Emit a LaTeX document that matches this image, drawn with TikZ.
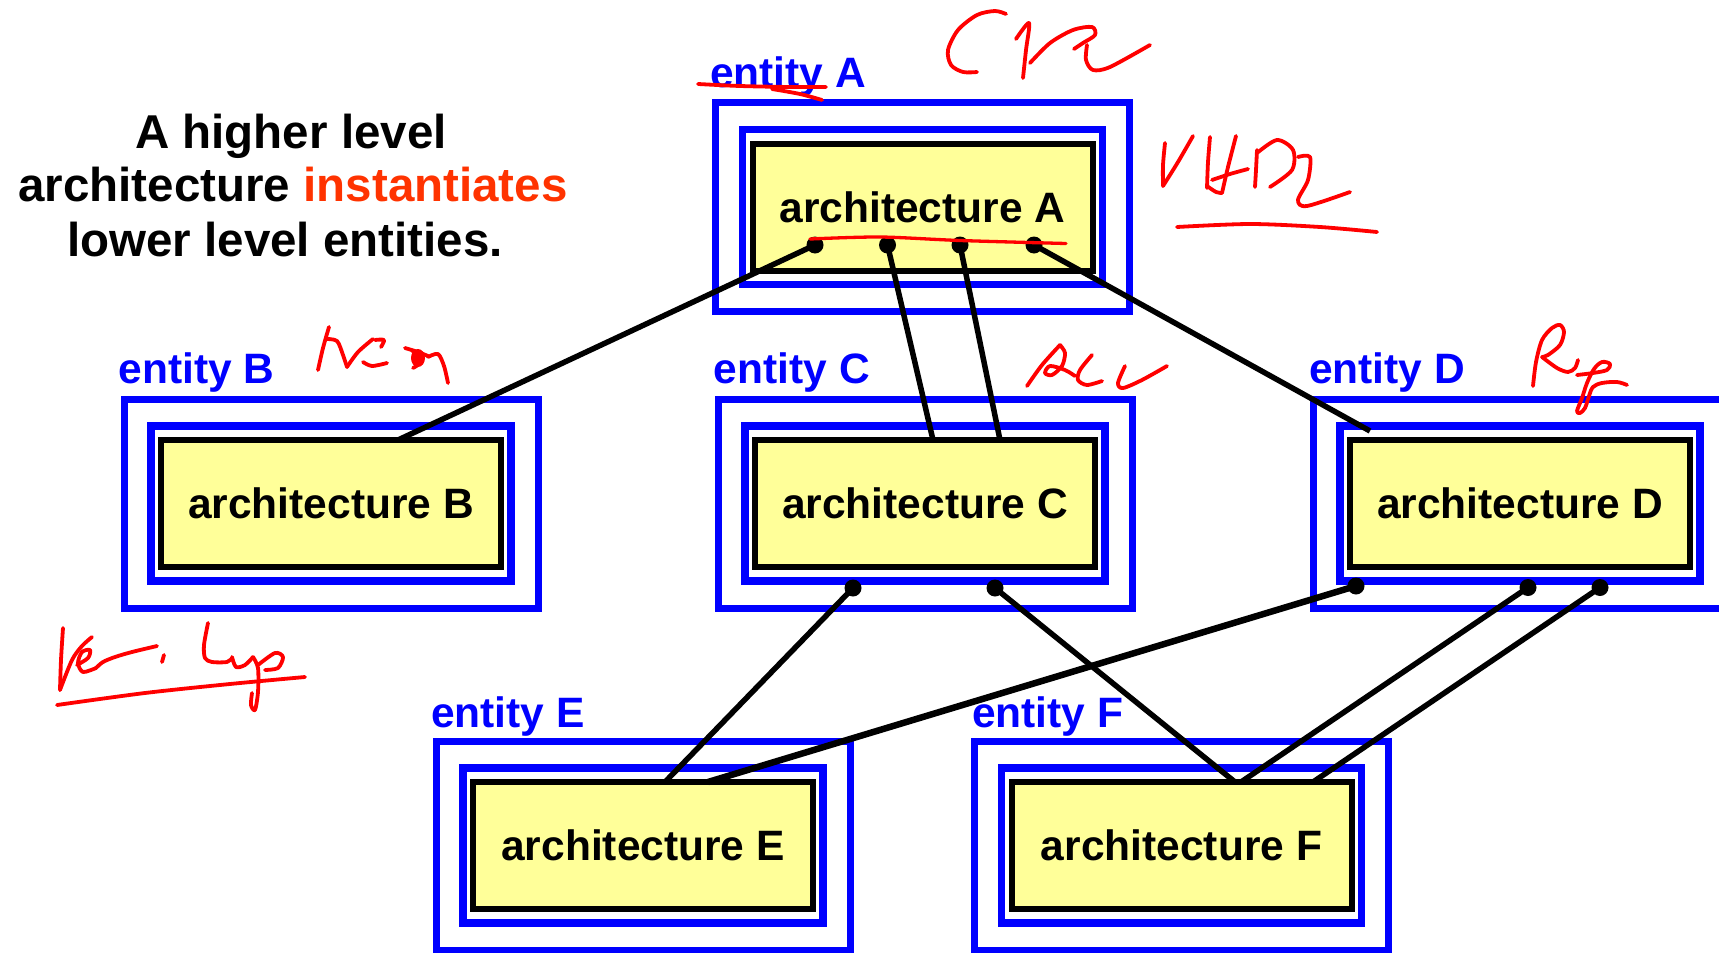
\documentclass[tikz,border=0pt]{standalone}
\usepackage{fontspec}
\setmainfont{Liberation Sans}
\usetikzlibrary{calc}
\definecolor{entblue}{RGB}{0,0,255}
\definecolor{archyellow}{RGB}{255,255,153}
\definecolor{inkred}{RGB}{255,0,0}
\definecolor{keyred}{RGB}{255,51,0}

\begin{document}
\begin{tikzpicture}[x=1pt,y=-1pt,
  entouter/.style={draw=entblue, line width=7pt, minimum width=414pt, minimum height=209pt, inner sep=0pt, outer sep=0pt},
  entmid/.style={draw=entblue, line width=7.5pt, minimum width=360pt, minimum height=155pt, inner sep=0pt, outer sep=0pt},
  archbox/.style={draw=black, fill=archyellow, line width=6pt, minimum width=340pt, minimum height=127pt, inner sep=0pt, outer sep=0pt, font=\bfseries\fontsize{42.5pt}{50pt}\selectfont},
  entlabel/.style={anchor=base west, inner sep=0pt, text=entblue, font=\bfseries\fontsize{42.5pt}{50pt}\selectfont},
  headline/.style={anchor=base, inner sep=0pt, font=\bfseries\fontsize{47.5pt}{54pt}\selectfont},
  wire/.style={draw=black, line width=5.5pt},
  pin/.style={circle, fill=black, minimum size=17pt, inner sep=0pt, outer sep=0pt},
  ink/.style={draw=inkred, line width=3.8pt, line cap=round, line join=round}
]
\useasboundingbox (0,0) rectangle (1719,953);
\clip (0,0) rectangle (1719,953);

% heading
\node[headline] (title1) at (291,148.3) {A higher level};
\node[headline] (title2) at (293,201.7) {architecture \textcolor{keyred}{instantiates}};
\node[headline] (title3) at (285,256.7) {lower level entities.};

% entity / architecture boxes
\foreach \n/\cx/\cy/\lx/\ly in {A/922.5/207/710/87.5, B/331/503.5/118.4/383.5, C/925/503.5/713.7/383.5,
                               D/1520/503.5/1309/383.5, E/643/845.5/431/727, F/1181.5/845.5/972/727}{
  \node[entouter] (ent\n) at (\cx,\cy) {};
  \node[entmid] (mid\n) at (\cx,\cy) {};
  \node[archbox] (arch\n) at (\cx,\cy) {architecture \n};
  \node[entlabel] (lab\n) at (\lx,\ly) {entity \n};
}

% instantiation points
\coordinate (a1) at (815,245);
\coordinate (a2) at (887.5,245);
\coordinate (a3) at (960,245);
\coordinate (a4) at (1034,245);
\coordinate (c1) at (853,588);
\coordinate (c2) at (995,588);
\coordinate (d1) at (1356,586);
\coordinate (d2) at (1528,587.5);
\coordinate (d3) at (1600,587.5);

% connections
\draw[wire] (a1) -- ($(archB.north)+(67,0)$);
\draw[wire] (a2) -- ($(archC.north)+(8,0)$);
\draw[wire] (a3) -- ($(archC.north)+(75,0)$);
\draw[wire] (a4) -- ($(archD.north)+(-150,-9)$);
\draw[wire] (c1) -- ($(archE.north)+(22,0)$);
\draw[wire] (c2) -- ($(archF.north)+(53.5,0)$);
\draw[wire, line width=6.5pt] (d1) -- ($(archE.north)+(65,0)$);
\draw[wire] (d2) -- ($(archF.north)+(59.5,0)$);
\draw[wire] (d3) -- ($(archF.north)+(131.5,0)$);

% the points sit on top of the wires
\foreach \p in {a1,a2,a3,a4,c1,c2,d1,d2,d3}{
  \node[pin] (pin\p) at (\p) {};
}

% handwritten notes
% strike under "entity" of A
\draw[ink] plot[smooth] coordinates {(698,84) (740,86) (790,87) (826,87)};
\draw[ink] plot[smooth] coordinates {(772,89) (800,94) (822,100)};
% line through the points of architecture A
\draw[ink, line width=3.3pt] plot[smooth] coordinates {(810,239) (880,237) (960,240.5) (1066,243.5)};
% "Cr"
\draw[ink] plot[smooth] coordinates {(1006,14) (995,11) (977,15) (958,30) (948,50) (951,65) (963,72) (977,72)};
\draw[ink] plot[smooth] coordinates {(1016,39) (1029,23) (1026,50) (1023,78)};
\draw[ink] plot[smooth] coordinates {(1030,63) (1050,43) (1073,30) (1092,27) (1095,35) (1083,43) (1074,49)};
\draw[ink] plot[smooth] coordinates {(1087,45) (1086,60) (1093,70) (1110,67) (1150,45)};
% "VHDL"
\draw[ink] plot[smooth] coordinates {(1165,143) (1163,165) (1163,186)};
\draw[ink] plot[smooth] coordinates {(1163,186) (1178,162) (1193,136)};
\draw[ink] plot[smooth] coordinates {(1210,137) (1208,162) (1207,188)};
\draw[ink] plot[smooth] coordinates {(1236,136) (1228,167) (1222,193)};
\draw[ink] plot[smooth] coordinates {(1207,186) (1216,192) (1222,193)};
\draw[ink] plot[smooth] coordinates {(1212,180) (1230,174) (1248,169)};
\draw[ink] plot[smooth] coordinates {(1257,150) (1256,170) (1255,187)};
\draw[ink] plot[smooth] coordinates {(1257,153) (1277,140) (1293,150) (1292,170) (1270,187)};
\draw[ink] plot[smooth] coordinates {(1298,157) (1310,157) (1308,180) (1298,200) (1307,206) (1350,192)};
\draw[ink] plot[smooth] coordinates {(1177,227) (1250,224) (1320,227) (1377,232)};
% "Mem"
\draw[ink] plot[smooth] coordinates {(329,327) (323,348) (318,370)};
\draw[ink] plot[smooth] coordinates {(326,339) (337,341) (343,355) (347,367)};
\draw[ink] plot[smooth] coordinates {(347,367) (358,352) (373,339)};
\draw[ink] plot[smooth] coordinates {(375,340) (384,340) (381,347)};
\draw[ink] plot[smooth] coordinates {(363,362) (372,366) (387,363)};
\draw[ink] plot[smooth] coordinates {(405,348) (418,352) (428,356)};
\draw[ink] plot[smooth] coordinates {(412,350) (420,362) (413,368)};
\fill[inkred] (418,358) ellipse [x radius=7pt, y radius=9pt];
\draw[ink] plot[smooth] coordinates {(428,357) (438,354) (444,366) (448,383)};
% "ALU"
\draw[ink] plot[smooth] coordinates {(1027,386) (1042,365) (1060,345)};
\draw[ink] plot[smooth] coordinates {(1060,345) (1065,353) (1062,366) (1052,375) (1045,373) (1050,366) (1065,370) (1075,376)};
\draw[ink] plot[smooth] coordinates {(1092,355) (1080,370) (1078,380) (1087,385) (1102,381)};
\draw[ink] plot[smooth] coordinates {(1125,366) (1118,383) (1123,388) (1142,380) (1167,366)};
% "Reg"
\draw[ink] plot[smooth] coordinates {(1533,386) (1536,362) (1542,340) (1552,328) (1560,325) (1564,332) (1560,345) (1548,355) (1542,357)};
\draw[ink] plot[smooth] coordinates {(1542,357) (1557,368) (1568,372) (1575,368) (1578,360)};
\draw[ink] plot[smooth, tension=0.55] coordinates {(1577,375) (1593,373) (1607,370) (1610,364) (1602,362) (1594,369) (1587,383) (1582,398) (1577,411) (1580,413) (1585,408) (1589,396) (1593,387) (1602,383) (1617,382) (1627,385)};
% "Ver, Log"
\draw[ink] plot[smooth] coordinates {(63,628) (61,660) (60,690)};
\draw[ink] plot[smooth] coordinates {(60,690) (72,660) (82,646) (92,637)};
\draw[ink] plot[smooth] coordinates {(77,665) (88,658) (90,650) (82,652) (78,663) (83,672) (96,668)};
\draw[ink] plot[smooth] coordinates {(96,668) (103,662) (115,657) (132,652) (157,646)};
\draw[ink] plot[smooth] coordinates {(164,655) (162,662)};
\draw[ink] plot[smooth] coordinates {(208,623) (204,645) (205,658) (212,662) (227,662) (232,658)};
\draw[ink] plot[smooth] coordinates {(232,657) (236,667) (245,665) (253,657)};
\draw[ink] plot[smooth] coordinates {(253,657) (258,668) (258,692) (255,710) (251,705) (252,693)};
\draw[ink] plot[smooth] coordinates {(258,665) (275,653) (283,657) (278,668) (265,670)};
\draw[ink] plot[smooth] coordinates {(57,705) (145,693) (230,684) (305,677)};
\end{tikzpicture}
\end{document}
